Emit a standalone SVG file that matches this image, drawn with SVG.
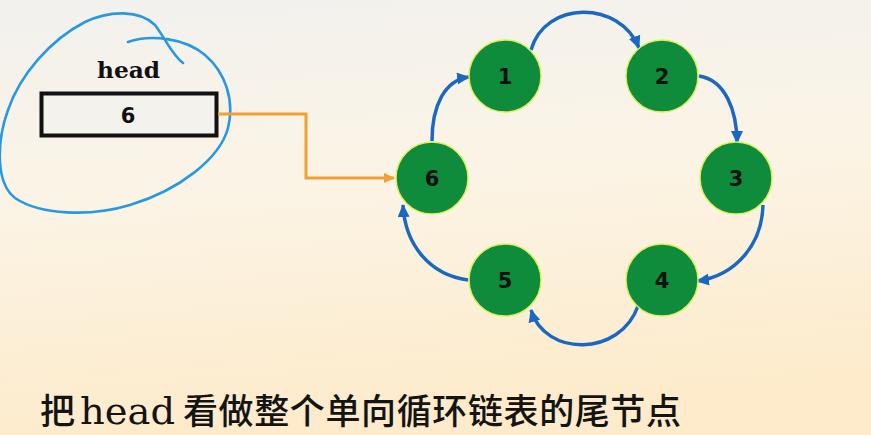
<svg xmlns="http://www.w3.org/2000/svg" width="871" height="435" viewBox="0 0 871 435">
  <defs>
    <linearGradient id="bg" x1="0" y1="0" x2="0.15" y2="1">
      <stop offset="0" stop-color="#f2f1ee"/>
      <stop offset="0.45" stop-color="#fbf4e6"/>
      <stop offset="1" stop-color="#fdebcb"/>
    </linearGradient>
    <marker id="blueHead" markerUnits="userSpaceOnUse" markerWidth="14" markerHeight="12" refX="12" refY="6" orient="auto">
      <path d="M0,0 L13,6 L0,12 z" fill="#1b68c2"/>
    </marker>
    <marker id="orangeHead" markerUnits="userSpaceOnUse" markerWidth="12" markerHeight="10" refX="10" refY="5" orient="auto">
      <path d="M0,0 L11,5 L0,10 z" fill="#f0a035"/>
    </marker>
    <style>
      .node circle { fill: #0f8c3b; stroke: #dcef5a; stroke-width: 1.5; }
      .node text, .digit { font-family: "DejaVu Sans", Verdana, sans-serif; font-weight: bold; font-size: 21px; fill: #111; text-anchor: middle; }
      .link { fill: none; stroke: #1b68c2; stroke-width: 3.5; marker-end: url(#blueHead); }
      .ptr { fill: none; stroke: #f0a035; stroke-width: 3; marker-end: url(#orangeHead); }
      .cjk { font-family: "Noto Sans CJK SC", sans-serif; font-size: 35px; font-weight: 500; fill: #141414; }
    </style>
  </defs>

  <rect width="871" height="435" fill="url(#bg)"/>

  <!-- head pointer variable -->
  <g id="head">
    <text x="128.5" y="78" font-family="'DejaVu Serif', serif" font-weight="bold" font-size="22" text-anchor="middle" fill="#111" textLength="63" lengthAdjust="spacingAndGlyphs">head</text>
    <rect x="41.5" y="93.5" width="175" height="42" fill="#f4f2ec" stroke="#111" stroke-width="4"/>
    <text class="digit" x="128" y="123">6</text>
  </g>

  <!-- freehand circle around head -->
  <path id="mark" d="M128,42 C150,34 185,38 205,55 C225,72 235,100 228,128 C220,158 180,190 130,205 C90,217 40,215 15,198 C-5,183 -3,140 8,110 C20,75 50,40 85,22 C110,10 140,10 155,25 C165,38 172,55 183,63" fill="none" stroke="#2898e0" stroke-width="2.6" stroke-linecap="round"/>

  <!-- connectors -->
  <g id="connectors">
    <path class="ptr" d="M218,114 H306 V178 H394"/>
    <path class="link" d="M531,50 C545,0 620,0 639,48"/>
    <path class="link" d="M699,76 C725,80 737,110 737,143"/>
    <path class="link" d="M763,205 C762,245 735,276 697,281"/>
    <path class="link" d="M638,306 C620,357 545,357 531,310"/>
    <path class="link" d="M468,280 C430,275 405,245 403,205"/>
    <path class="link" d="M432,141 C432,105 445,80 469,77"/>
  </g>

  <!-- list nodes -->
  <g id="n1" class="node"><circle cx="505" cy="76" r="36"/><text x="505" y="84">1</text></g>
  <g id="n2" class="node"><circle cx="662" cy="76" r="36"/><text x="662" y="84">2</text></g>
  <g id="n3" class="node"><circle cx="736" cy="178" r="36"/><text x="736" y="186">3</text></g>
  <g id="n4" class="node"><circle cx="662" cy="280" r="36"/><text x="662" y="288">4</text></g>
  <g id="n5" class="node"><circle cx="505" cy="280" r="36"/><text x="505" y="288">5</text></g>
  <g id="n6" class="node"><circle cx="432" cy="178" r="36"/><text x="432" y="186">6</text></g>

  <!-- caption -->
  <g id="caption">
    <text class="cjk" x="40" y="424">把</text>
    <text x="80" y="424" font-family="'DejaVu Serif', 'Liberation Serif', serif" font-size="37" fill="#141414" textLength="95" lengthAdjust="spacingAndGlyphs">head</text>
    <text class="cjk" x="183" y="424" textLength="498" lengthAdjust="spacing">看做整个单向循环链表的尾节点</text>
  </g>
</svg>
